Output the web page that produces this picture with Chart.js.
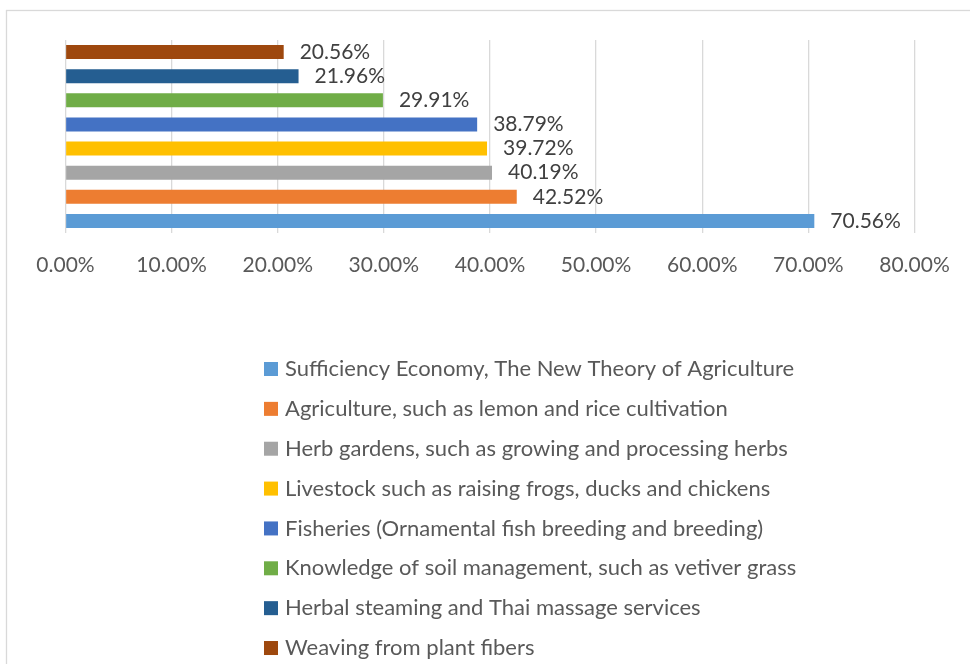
<!DOCTYPE html>
<html><head><meta charset="utf-8">
<script src="https://cdn.jsdelivr.net/npm/chart.js@4.4.1/dist/chart.umd.min.js"></script>
<style>html,body{margin:0;padding:0;background:#fff;overflow:hidden}#wrap{position:relative;width:970px;height:664px}</style>
</head><body><div id="wrap"><canvas id="c" width="970" height="664"></canvas></div>
<script>
const categories = [
  'Sufficiency Economy, The New Theory of Agriculture',
  'Agriculture, such as lemon and rice cultivation',
  'Herb gardens, such as growing and processing herbs',
  'Livestock such as raising frogs, ducks and chickens',
  'Fisheries (Ornamental fish breeding and breeding)',
  'Knowledge of soil management, such as vetiver grass',
  'Herbal steaming and Thai massage services',
  'Weaving from plant fibers'
];
const values = [70.56, 42.52, 40.19, 39.72, 38.79, 29.91, 21.96, 20.56];
const colors = ['#5B9BD5', '#ED7D31', '#A5A5A5', '#FFC000', '#4472C4', '#70AD47', '#255E91', '#9E480E'];
const tickLabels = ['0.00%', '10.00%', '20.00%', '30.00%', '40.00%', '50.00%', '60.00%', '70.00%', '80.00%'];

const FONT = 'Lato, "Open Sans", sans-serif';
const FS = 21;
const LFS = 22;

const frame = {
  id: 'frame',
  beforeDraw(chart) {
    const ctx = chart.ctx;
    ctx.save();
    ctx.strokeStyle = '#D9D9D9';
    ctx.lineWidth = 1.3;
    ctx.strokeRect(6.5, 10.5, 1400, 1400);
    ctx.restore();
  }
};

const valueLabels = {
  id: 'valueLabels',
  afterDatasetsDraw(chart) {
    const ctx = chart.ctx;
    ctx.save();
    ctx.font = FS + 'px ' + FONT;
    ctx.fillStyle = '#404040';
    ctx.textAlign = 'left';
    ctx.textBaseline = 'middle';
    chart.data.datasets.forEach((ds, i) => {
      const meta = chart.getDatasetMeta(i);
      const el = meta.data[0];
      ctx.fillText(ds.data[0].toFixed(2) + '%', el.x + 16, el.y);
    });
    ctx.restore();
  }
};

const legendList = {
  id: 'legendList',
  afterDraw(chart) {
    const ctx = chart.ctx;
    ctx.save();
    ctx.font = LFS + 'px ' + FONT;
    ctx.textAlign = 'left';
    ctx.textBaseline = 'middle';
    const x0 = 264, y0 = 369, step = 39.86;
    categories.forEach((c, i) => {
      const y = y0 + i * step;
      ctx.fillStyle = colors[i];
      ctx.fillRect(x0, y - 7, 14, 14);
      ctx.fillStyle = '#595959';
      ctx.fillText(c, x0 + 21, y);
    });
    ctx.restore();
  }
};

const datasets = categories.map((c, i) => ({
  label: c,
  data: [values[i]],
  backgroundColor: colors[i],
  borderWidth: 0
})).reverse();

new Chart(document.getElementById('c'), {
  type: 'bar',
  data: { labels: [''], datasets },
  options: {
    indexAxis: 'y',
    responsive: false,
    animation: false,
    devicePixelRatio: 1,
    layout: { padding: { left: 65.5, right: 55.5, top: 40, bottom: 371 } },
    datasets: { bar: { categoryPercentage: 1.0, barPercentage: 0.58 } },
    plugins: { legend: { display: false }, tooltip: { enabled: false } },
    scales: {
      x: {
        type: 'linear', min: 0, max: 80,
        ticks: {
          stepSize: 10,
          color: '#595959',
          font: { family: FONT, size: FS },
          padding: 20,
          callback: (v, i) => tickLabels[i]
        },
        grid: { color: '#D9D9D9', lineWidth: 1.3, drawTicks: false },
        border: { display: false },
        afterFit(s) { s.height = 60; }
      },
      y: { type: 'category', display: false, offset: true }
    }
  },
  plugins: [frame, valueLabels, legendList]
});
</script>
</body></html>
